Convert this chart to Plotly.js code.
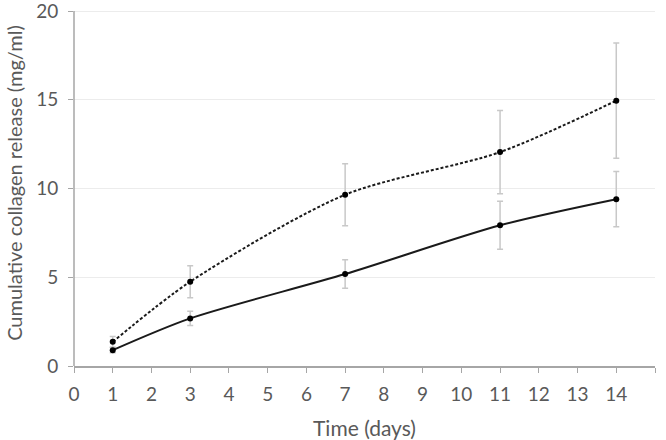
<!DOCTYPE html>
<html>
<head>
<meta charset="utf-8">
<script src="https://cdn.plot.ly/plotly-3.0.1.min.js"></script>
<style>
  html, body { margin: 0; padding: 0; background: #fff; }
  #chart { width: 666px; height: 440px; }
</style>
</head>
<body>
<div id="chart"></div>
<script>
// time points (days)
var days = [1, 3, 7, 11, 14];

// dashed series
var releaseA = [1.36, 4.75, 9.65, 12.05, 14.95];
var errA = [0.3, 0.9, 1.75, 2.35, 3.25];

// solid series
var releaseB = [0.89, 2.68, 5.18, 7.93, 9.40];
var errB = [0.15, 0.4, 0.8, 1.35, 1.56];

var xTicks = [0, 1, 2, 3, 4, 5, 6, 7, 8, 9, 10, 11, 12, 13, 14, 15];
var yTicks = [0, 5, 10, 15, 20];
var yMax = 20;

var fontFam = 'Lato, "Open Sans", sans-serif';

function makeTrace(y, err, dash) {
  return {
    x: days,
    y: y,
    mode: 'lines+markers',
    line: { color: '#1a1a1a', width: 2, shape: 'spline', smoothing: 0.8, dash: dash },
    marker: { color: '#000', size: 6 },
    error_y: { type: 'data', array: err, visible: true, color: '#c8c8c8', thickness: 1.5, width: 3 },
    showlegend: false
  };
}

var data = [
  makeTrace(releaseA, errA, '3px,2px'),
  makeTrace(releaseB, errB, 'solid')
];

var layout = {
  width: 666,
  height: 440,
  margin: { l: 74, r: 11, t: 0, b: 74, autoexpand: false },
  paper_bgcolor: '#fff',
  plot_bgcolor: '#fff',
  font: { family: fontFam, color: '#595959', size: 19 },
  xaxis: {
    range: [0, 15],
    tickvals: xTicks,
    ticks: 'outside',
    ticklen: 5,
    tickcolor: '#a6a6a6',
    ticklabelstandoff: 6,
    showline: true,
    linecolor: '#a6a6a6',
    linewidth: 1.5,
    showgrid: false,
    zeroline: false,
    automargin: false,
    tickfont: { size: 19, color: '#595959' },
    title: { text: 'Time (days)', font: { size: 21, color: '#595959' }, standoff: 18 }
  },
  yaxis: {
    range: [0, yMax * 366 / 355],
    tickvals: yTicks,
    ticks: 'outside',
    ticklen: 5,
    tickcolor: '#a6a6a6',
    ticklabelstandoff: 6,
    ticklabeloverflow: 'allow',
    showline: false,
    showgrid: true,
    gridcolor: '#ececec',
    gridwidth: 1,
    zeroline: false,
    automargin: false,
    tickfont: { size: 19, color: '#595959' },
    title: { text: 'Cumulative collagen release (mg/ml)', font: { size: 20, color: '#595959' }, standoff: 8 }
  },
  shapes: [{
    type: 'line', xref: 'paper', yref: 'y',
    x0: 0, x1: 0, y0: 0, y1: yMax,
    line: { color: '#a6a6a6', width: 1.5 }
  }]
};

Plotly.newPlot('chart', data, layout, { staticPlot: true, displayModeBar: false });
</script>
</body>
</html>
